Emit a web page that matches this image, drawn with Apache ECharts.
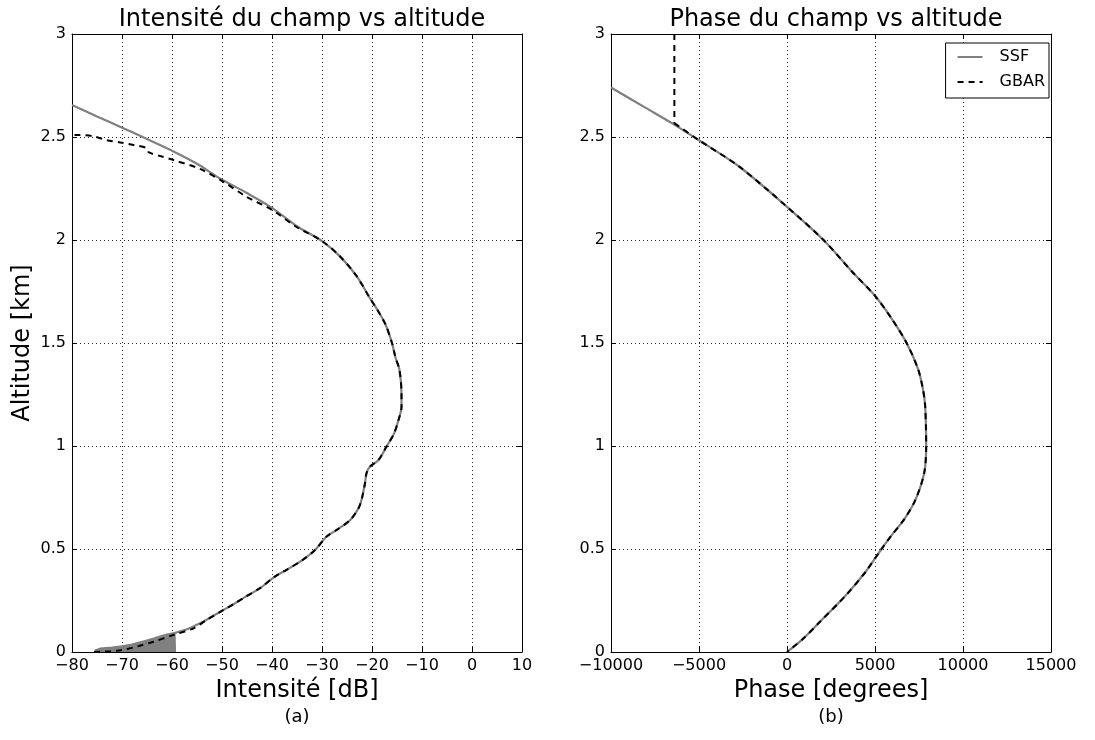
<!DOCTYPE html>
<html>
<head>
<meta charset="utf-8">
<script src="https://cdn.jsdelivr.net/npm/echarts@6/dist/echarts.min.js"></script>
<style>
html,body{margin:0;padding:0;background:#fff;}
#chart{width:1095px;height:740px;}
</style>
</head>
<body>
<div id="chart"></div>
<script>
// ---------- data ----------
const altitudeTicks = [0, 0.5, 1, 1.5, 2, 2.5, 3];
const intensityTicks = [-80, -70, -60, -50, -40, -30, -20, -10, 0, 10];
const phaseTicks = [-10000, -5000, 0, 5000, 10000, 15000];

// Intensity [dB] vs altitude [km]
const ssfIntensity = [
  [-80, 2.655], [-75, 2.60], [-70.4, 2.55], [-65, 2.49], [-59.7, 2.43], [-55, 2.37],
  [-50.5, 2.30], [-45.1, 2.229], [-40, 2.156], [-35.1, 2.068], [-30, 1.995],
  [-26.5, 1.923], [-23.1, 1.826], [-20.5, 1.721], [-18.7, 1.652], [-17.3, 1.59],
  [-16.0, 1.50], [-15.3, 1.43], [-14.5, 1.369], [-14.1, 1.25], [-14.1, 1.19],
  [-14.7, 1.126], [-15.6, 1.06], [-17.1, 0.997], [-18.7, 0.932], [-20.4, 0.90],
  [-21.1, 0.868], [-21.4, 0.819], [-22.1, 0.738], [-22.7, 0.698], [-24.4, 0.64],
  [-27.1, 0.592], [-29.1, 0.56], [-31.4, 0.495], [-34, 0.445], [-37, 0.40],
  [-39.5, 0.365], [-42.4, 0.31], [-45.5, 0.265], [-47.5, 0.235], [-49.7, 0.204],
  [-52, 0.172], [-54.5, 0.138], [-57, 0.11], [-59.5, 0.092]
];
// SSF near the ground oscillates rapidly: a filled grey wedge
const ssfIntensityNoise = [
  [-75.5, 0.006], [-74.4, 0.016], [-72, 0.021], [-70, 0.027], [-68, 0.036],
  [-66.5, 0.046], [-65, 0.056], [-63.5, 0.066], [-62.4, 0.075], [-61, 0.085],
  [-59.5, 0.092], [-59.4, 0.0]
];
const gbarIntensity = [
  [-79.5, 2.51], [-76, 2.505], [-73.1, 2.485], [-70, 2.472], [-67.7, 2.461],
  [-65.1, 2.447], [-64.6, 2.425], [-62, 2.405], [-59.7, 2.388], [-54.4, 2.345],
  [-49.7, 2.282], [-45.1, 2.21], [-40, 2.146], [-35.1, 2.063], [-30, 1.995],
  [-26.5, 1.923], [-23.1, 1.826], [-20.5, 1.721], [-18.7, 1.652], [-17.3, 1.59],
  [-16.0, 1.50], [-15.3, 1.43], [-14.5, 1.369], [-14.1, 1.25], [-14.1, 1.19],
  [-14.7, 1.126], [-15.6, 1.06], [-17.1, 0.997], [-18.7, 0.932], [-20.4, 0.90],
  [-21.1, 0.868], [-21.4, 0.819], [-22.1, 0.738], [-22.7, 0.698], [-24.4, 0.64],
  [-27.1, 0.592], [-29.1, 0.56], [-31.4, 0.495], [-34, 0.445], [-37, 0.40],
  [-39.5, 0.365], [-42.4, 0.31], [-45.5, 0.265], [-47.5, 0.235], [-49.7, 0.204],
  [-53.1, 0.155], [-55.7, 0.115], [-59.7, 0.083], [-63.7, 0.05], [-67.1, 0.026],
  [-69.8, 0.01], [-72.5, 0.003], [-75.8, 0.0]
];

// Phase [degrees] vs altitude [km]
const ssfPhase = [
  [-10000, 2.74], [-8000, 2.64], [-6500, 2.565], [-5000, 2.484], [-2741, 2.358],
  [0, 2.161], [2074, 2.0], [3741, 1.842], [5000, 1.729], [5963, 1.616],
  [6796, 1.5], [7444, 1.374], [7722, 1.277], [7850, 1.194], [7907, 1.0],
  [7800, 0.871], [7315, 0.742], [6667, 0.645], [5926, 0.565], [5370, 0.5],
  [4444, 0.387], [3333, 0.274], [1852, 0.145], [926, 0.065], [0, 0]
];
const gbarPhaseJump = [[-6400, 3.0], [-6400, 2.566]];
const gbarPhase = [
  [-6400, 2.566], [-6200, 2.555], [-5000, 2.484], [-2741, 2.358],
  [0, 2.161], [2074, 2.0], [3741, 1.842], [5000, 1.729], [5963, 1.616],
  [6796, 1.5], [7444, 1.374], [7722, 1.277], [7850, 1.194], [7907, 1.0],
  [7800, 0.871], [7315, 0.742], [6667, 0.645], [5926, 0.565], [5370, 0.5],
  [4444, 0.387], [3333, 0.274], [1852, 0.145], [926, 0.065], [0, 0]
];

// ---------- chart ----------
const FONT = 'DejaVu Sans';
const minus = v => String(v).replace('-', '\u2212');
const tickStyle = { show: true, inside: true, length: 5, lineStyle: { color: '#000' } };
const frameLine = { show: true, onZero: false, lineStyle: { color: '#000', width: 1 } };
const gridDots = { show: true, lineStyle: { type: [1, 3], color: '#222', width: 1 } };

function mainX(gridIndex, ticks, name) {
  return {
    type: 'value', gridIndex, min: ticks[0], max: ticks[ticks.length - 1],
    interval: ticks[1] - ticks[0], position: 'bottom',
    name, nameLocation: 'middle', nameGap: 25,
    nameTextStyle: { fontFamily: FONT, fontSize: 24, color: '#000' },
    axisLine: frameLine, axisTick: tickStyle,
    axisLabel: { fontFamily: FONT, fontSize: 16, color: '#000', margin: 6, formatter: minus },
    splitLine: gridDots
  };
}
function topX(gridIndex, ticks) {
  return {
    type: 'value', gridIndex, min: ticks[0], max: ticks[ticks.length - 1],
    interval: ticks[1] - ticks[0], position: 'top',
    axisLine: frameLine, axisTick: tickStyle,
    axisLabel: { show: false }, splitLine: { show: false }
  };
}
function mainY(gridIndex, name) {
  return {
    type: 'value', gridIndex, min: altitudeTicks[0], max: altitudeTicks[altitudeTicks.length - 1],
    interval: altitudeTicks[1] - altitudeTicks[0], position: 'left',
    name, nameLocation: 'middle', nameGap: 37,
    nameTextStyle: { fontFamily: FONT, fontSize: 24, color: '#000' },
    axisLine: frameLine, axisTick: tickStyle,
    axisLabel: { fontFamily: FONT, fontSize: 16, color: '#000', margin: 6 },
    splitLine: gridDots
  };
}
function rightY(gridIndex) {
  return {
    type: 'value', gridIndex, min: altitudeTicks[0], max: altitudeTicks[altitudeTicks.length - 1],
    interval: altitudeTicks[1] - altitudeTicks[0], position: 'right',
    axisLine: frameLine, axisTick: tickStyle,
    axisLabel: { show: false }, splitLine: { show: false }
  };
}
function ssfSeries(data, xi, yi, extra) {
  return Object.assign({ name: 'SSF', type: 'line', xAxisIndex: xi, yAxisIndex: yi, data,
    showSymbol: false, symbol: 'none', smooth: 0.3, animation: false, z: 2,
    lineStyle: { color: '#808080', width: 2.2 }, itemStyle: { color: '#808080' } }, extra || {});
}
function gbarSeries(data, xi, yi, extra) {
  return Object.assign({ name: 'GBAR', type: 'line', xAxisIndex: xi, yAxisIndex: yi, data,
    showSymbol: false, symbol: 'none', smooth: 0.3, animation: false, z: 3,
    lineStyle: { color: '#000', width: 2, type: [6, 5] }, itemStyle: { color: '#000' } }, extra || {});
}

const chart = echarts.init(document.getElementById('chart'), null, { renderer: 'canvas' });
chart.setOption({
  backgroundColor: '#fff',
  animation: false,
  title: [
    { text: 'Intensité du champ vs altitude', left: 297, textAlign: 'center', top: 3,
      textStyle: { fontFamily: FONT, fontSize: 24, fontWeight: 'normal', color: '#000' } },
    { text: 'Phase du champ vs altitude', left: 831, textAlign: 'center', top: 3,
      textStyle: { fontFamily: FONT, fontSize: 24, fontWeight: 'normal', color: '#000' } }
  ],
  grid: [
    { left: 72, top: 34, width: 450, height: 618, containLabel: false },
    { left: 611, top: 34, width: 440, height: 618, containLabel: false }
  ],
  xAxis: [
    mainX(0, intensityTicks, 'Intensité [dB]'),
    mainX(1, phaseTicks, 'Phase [degrees]'),
    topX(0, intensityTicks),
    topX(1, phaseTicks)
  ],
  yAxis: [
    mainY(0, 'Altitude [km]'),
    mainY(1, ''),
    rightY(0),
    rightY(1)
  ],
  legend: {
    data: ['SSF', 'GBAR'], orient: 'vertical', right: 46, top: 43,
    backgroundColor: '#fff', borderColor: '#000', borderWidth: 1, borderRadius: 0,
    padding: [6, 4, 8, 11], itemGap: 9, itemWidth: 25, itemHeight: 16,
    itemStyle: { opacity: 0 },
    textStyle: { fontFamily: FONT, fontSize: 16, lineHeight: 16, color: '#000', padding: [0, 0, 0, 12] }
  },
  graphic: [
    { type: 'text', x: 297, y: 717, style: { text: '(a)', font: '18px "DejaVu Sans"', fill: '#000', align: 'center', verticalAlign: 'middle' } },
    { type: 'text', x: 831, y: 717, style: { text: '(b)', font: '18px "DejaVu Sans"', fill: '#000', align: 'center', verticalAlign: 'middle' } }
  ],
  series: [
    ssfSeries(ssfIntensity, 0, 0),
    ssfSeries(ssfIntensityNoise, 0, 0, { smooth: false, areaStyle: { color: '#808080', opacity: 1 } }),
    gbarSeries(gbarIntensity, 0, 0),
    ssfSeries(ssfPhase, 1, 1),
    gbarSeries(gbarPhaseJump, 1, 1, { smooth: false }),
    gbarSeries(gbarPhase, 1, 1)
  ]
});
</script>
</body>
</html>
